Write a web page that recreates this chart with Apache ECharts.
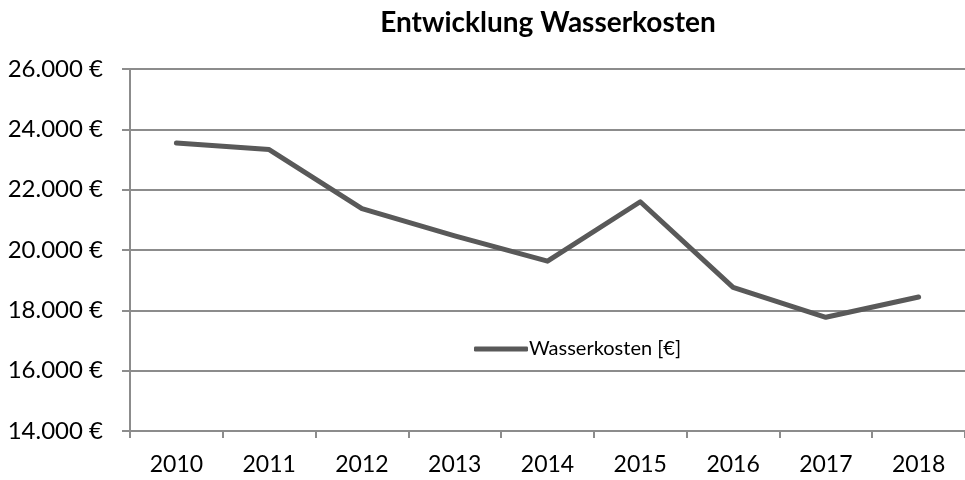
<!DOCTYPE html>
<html>
<head>
<meta charset="utf-8">
<script src="https://cdn.jsdelivr.net/npm/echarts@6/dist/echarts.min.js"></script>
<style>
    html, body { margin: 0; padding: 0; background: #fff; }
    #chart { width: 965px; height: 480px; }
</style>
</head>
<body>
<div id="chart"></div>
<script>
    // Kategorien und Werte
    var years = ['2010', '2011', '2012', '2013', '2014', '2015', '2016', '2017', '2018'];
    var kosten = [23550, 23330, 21370, 20470, 19630, 21600, 18760, 17770, 18440];
    var seriesName = 'Wasserkosten [€]';

    var fontFamily = 'Lato, "Open Sans", sans-serif';
    var gridColor = '#8c8c8c';

    var myChart = echarts.init(document.getElementById('chart'));

    var option = {
        backgroundColor: '#fff',
        animation: false,
        title: {
            text: 'Entwicklung Wasserkosten',
            left: 543,
            top: 4,
            textAlign: 'center',
            textStyle: {
                fontFamily: fontFamily,
                fontSize: 28,
                fontWeight: 'bold',
                color: '#000'
            }
        },
        legend: {
            left: 469,
            top: 334,
            itemWidth: 54,
            itemHeight: 5,
            itemGap: 5,
            icon: 'roundRect',
            data: [seriesName],
            textStyle: {
                fontFamily: fontFamily,
                fontSize: 20,
                color: '#000',
                padding: [0, 0, 0, -4]
            }
        },
        grid: {
            left: 130,
            width: 842,
            top: 69,
            bottom: 49,
            containLabel: false
        },
        xAxis: {
            type: 'category',
            boundaryGap: true,
            data: years,
            axisLine: {
                lineStyle: { color: gridColor, width: 2 }
            },
            axisTick: {
                show: true,
                length: 7,
                lineStyle: { color: gridColor, width: 2 }
            },
            axisLabel: {
                margin: 22,
                fontFamily: fontFamily,
                fontSize: 23,
                color: '#000'
            }
        },
        yAxis: {
            type: 'value',
            min: 14000,
            max: 26000,
            interval: 2000,
            axisLine: {
                show: true,
                lineStyle: { color: gridColor, width: 2 }
            },
            axisTick: {
                show: true,
                length: 8,
                lineStyle: { color: gridColor, width: 2 }
            },
            splitLine: {
                lineStyle: { color: gridColor, width: 2 }
            },
            axisLabel: {
                margin: 27,
                fontFamily: fontFamily,
                fontSize: 24,
                color: '#000',
                formatter: function(v) {
                    return v.toLocaleString('de-DE') + ' €';
                }
            }
        },
        series: [{
            name: seriesName,
            type: 'line',
            data: kosten,
            symbol: 'none',
            lineStyle: { color: '#595959', width: 5, cap: 'round', join: 'round' },
            itemStyle: { color: '#595959' }
        }]
    };

    myChart.setOption(option);
</script>
</body>
</html>
